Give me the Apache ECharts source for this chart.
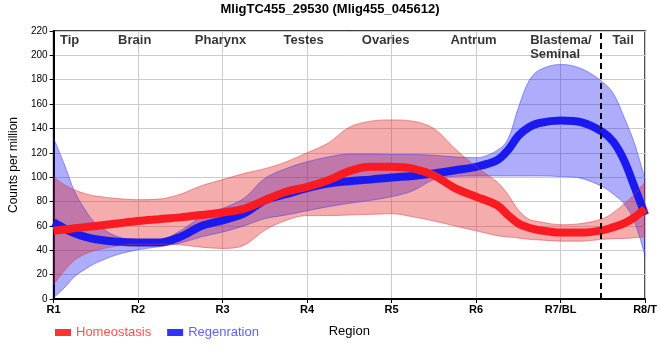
<!DOCTYPE html>
<html>
<head>
<meta charset="utf-8">
<script src="https://cdn.jsdelivr.net/npm/echarts@6/dist/echarts.min.js"></script>
<style>html,body{margin:0;padding:0;background:#fff;}#c{width:660px;height:360px;}</style>
</head>
<body>
<div id="c"></div>
<script>
var categories = ['R1','R2','R3','R4','R5','R6','R7/BL','R8/T'];
var xs = [1, 1.125, 1.25, 1.375, 1.5, 1.75, 2, 2.25, 2.5, 2.75, 3, 3.25, 3.5, 3.75, 4, 4.25, 4.5, 4.75, 5, 5.25, 5.5, 5.75, 6, 6.25, 6.375, 6.5, 6.625, 6.75, 7, 7.25, 7.5, 7.625, 7.75, 7.875, 8];
var homeoMean  = [56, 57, 58, 59, 60, 62, 64, 65.5, 67, 69, 71, 74, 81, 88, 92, 97.5, 105, 108.5, 108.5, 107, 101.5, 91, 84, 77, 69, 62, 58.5, 56.5, 54.5, 54.5, 56.5, 59, 62, 67, 74];
var homeoUpper = [100, 94, 89.5, 86.5, 84.5, 82.5, 81.5, 82, 86, 93, 98, 103, 107, 112.5, 120, 128, 141, 146, 147, 146, 140, 123.5, 108.5, 96, 86, 73, 65.5, 63.5, 61, 62, 66, 71, 78, 86, 96];
var homeoLower = [12, 23, 32, 37, 40, 43.5, 45, 45, 44.5, 42.5, 41.5, 44, 56.5, 64.5, 68.5, 68.5, 69, 69.5, 70, 67.5, 64, 60, 56, 52, 51, 50, 49, 48.5, 47.5, 47.5, 49, 49.5, 49.7, 50.3, 51];
var regenMean  = [63, 58, 54, 51, 49, 47, 46.4, 46.4, 51, 60, 64.6, 70, 81, 86, 91, 94.8, 96.7, 98, 99.7, 101, 103, 105.7, 108.5, 114, 122, 134, 141, 144.5, 146.5, 145, 137, 129, 114, 92, 69];
var regenUpper = [132, 111, 88, 73, 62, 51.3, 48.6, 48.5, 56, 67.5, 74.3, 82.5, 99, 107, 112.6, 116.6, 119, 119, 118.6, 118.6, 118, 116.6, 116, 122, 131, 157, 179, 188, 192.6, 189, 178, 168.6, 149.5, 127.6, 98];
var regenLower = [1, 9, 18.5, 24.5, 29.5, 36.3, 40.4, 43, 46, 51, 55, 60, 66, 69, 72.5, 75.8, 78.6, 81, 84, 88.8, 98, 100.7, 101, 101, 101, 101, 101, 101, 100.5, 99, 92, 86, 78.4, 63.4, 35];
var regionNames = ['Tip','Brain','Pharynx','Testes','Ovaries','Antrum','Blastema/\nSeminal','Tail'];
var regionX = [1.19, 1.96, 2.975, 3.96, 4.93, 5.97, 6.64, 7.74];
var regionY = 218;
var dashX = 7.48;

var FONT = '"Liberation Sans", Arial, sans-serif';
var SM = 0.35;

function pairs(arr){ return xs.map(function(x,i){ return [x, arr[i]]; }); }
// value first, x second: so that stacking is applied to the value dimension
function vpairs(arr){ return xs.map(function(x,i){ return [arr[i], x]; }); }
function vdiff(up, lo){ return xs.map(function(x,i){ return [up[i]-lo[i], x]; }); }

function band(key, lo, up, fill, edge){
  return [
    {type:'line', name:key+'_lo', stack:key, data:vpairs(lo), encode:{x:1, y:0}, smooth:SM, symbol:'none', silent:true,
     lineStyle:{width:1, color:edge}},
    {type:'line', name:key+'_hi', stack:key, data:vdiff(up, lo), encode:{x:1, y:0}, smooth:SM, symbol:'none', silent:true,
     lineStyle:{width:1, color:edge}, areaStyle:{color:fill, opacity:1}}
  ];
}

var series = [];
series = series.concat(band('regenBand', regenLower, regenUpper, 'rgba(20,20,245,0.35)', 'rgba(60,60,240,0.5)'));
series.push({type:'line', name:'Regenration', data:pairs(regenMean), smooth:SM, symbol:'none',
  color:'#3333ff', lineStyle:{width:8, color:'#1a1af0'}});
series = series.concat(band('homeoBand', homeoLower, homeoUpper, 'rgba(225,30,30,0.37)', 'rgba(220,60,60,0.5)'));
series.push({type:'line', name:'Homeostasis', data:pairs(homeoMean), smooth:SM, symbol:'none',
  color:'#ff3333', lineStyle:{width:8, color:'#fa1a22'},
  markLine:{silent:true, symbol:'none', label:{show:false},
    lineStyle:{color:'#000', width:2, type:[6,4]}, data:[{xAxis:dashX}]}});
series.push({type:'scatter', name:'regions', symbolSize:0, silent:true,
  data: regionNames.map(function(n,i){
    var d = {value:[regionX[i], regionY], name:n};
    if (n.indexOf('\n') >= 0) { d.label = {align:'left'}; }
    return d;
  }),
  label:{show:true, position:[0,0], align:'center', verticalAlign:'top', lineHeight:14,
    formatter:function(p){ return p.name; }, fontFamily:FONT, fontWeight:'bold', fontSize:13, color:'#000'}
});

var chart = echarts.init(document.getElementById('c'), null, {renderer:'canvas'});
chart.setOption({
  animation:false,
  backgroundColor:'#fff',
  title:{text:'MligTC455_29530 (Mlig455_045612)', left:'center', top:3, padding:0,
    textStyle:{fontFamily:FONT, fontWeight:'bold', fontSize:13, color:'#000'}},
  grid:{left:49, right:9, top:31, bottom:61, show:true, borderColor:'#000', borderWidth:1.5, backgroundColor:'transparent'},
  legend:{left:50, top:321, icon:'rect', itemWidth:16, itemHeight:7, itemGap:16,
    textStyle:{fontFamily:FONT, fontSize:13},
    data:[{name:'Homeostasis', itemStyle:{color:'#ff3333'}, textStyle:{color:'#ff5050'}},
          {name:'Regenration', itemStyle:{color:'#3333ff'}, textStyle:{color:'#6060ff'}}]},
  xAxis:{type:'value', min:1, max:8, interval:1, name:'Region', nameLocation:'middle', nameGap:26,
    nameTextStyle:{fontFamily:FONT, fontSize:13, color:'#000'},
    axisLine:{show:true, lineStyle:{color:'#000', width:2}},
    axisTick:{show:true, length:4, lineStyle:{color:'#000'}},
    axisLabel:{fontFamily:FONT, fontWeight:'bold', fontSize:11, color:'#000', margin:5,
      showMinLabel:true, showMaxLabel:true,
      formatter:function(v){ return categories[Math.round(v)-1] || ''; }},
    splitLine:{show:true, lineStyle:{color:'#cccccc', width:1}}},
  yAxis:{type:'value', min:0, max:220, interval:20, name:'Counts per million', nameLocation:'middle', nameGap:31,
    nameTextStyle:{fontFamily:FONT, fontSize:12, color:'#000'},
    axisLine:{show:true, lineStyle:{color:'#000', width:2}},
    axisTick:{show:true, length:4, lineStyle:{color:'#000'}},
    axisLabel:{fontFamily:FONT, fontSize:10, color:'#000', margin:6},
    splitLine:{show:true, lineStyle:{color:'#cccccc', width:1}}},
  series:series
});
</script>
</body>
</html>
